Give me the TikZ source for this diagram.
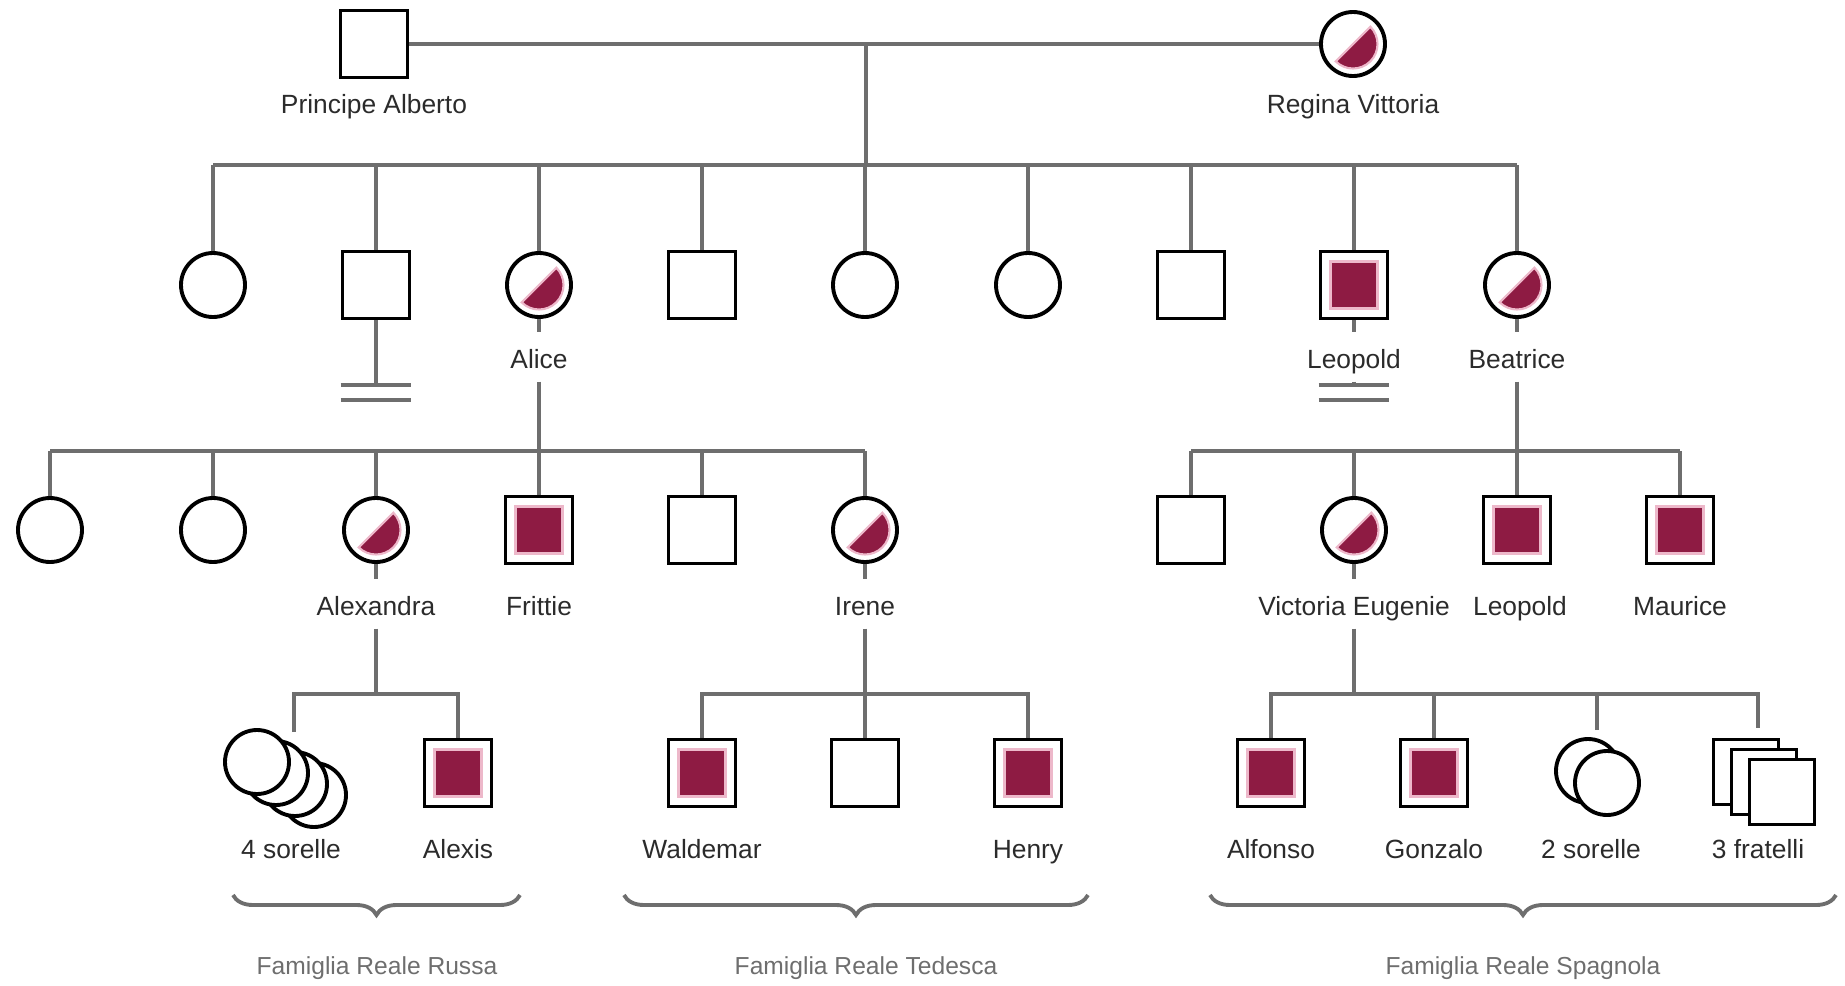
\documentclass[tikz,border=0pt]{standalone}
\usepackage{fontspec}
\setmainfont{Liberation Sans}
\usetikzlibrary{decorations.pathreplacing}
\definecolor{Crim}{HTML}{8E1B43}
\definecolor{Blush}{HTML}{EDB8CA}
\definecolor{Wire}{HTML}{6E6E6E}
\definecolor{Ink}{HTML}{2B2B2B}

\begin{document}
\begin{tikzpicture}[x=0.1mm,y=-0.1mm,font=\fontsize{7.5}{9}\selectfont,
  male/.style={draw=black,line width=1.1pt,fill=white,minimum size=6.7mm,inner sep=0pt},
  fem/.style={circle,draw=black,line width=1.1pt,fill=white,minimum size=6.4mm,inner sep=0pt},
  hit/.style={male,path picture={\fill[Crim,draw=Blush,line width=0.7pt] ([shift={(1mm,1mm)}]path picture bounding box.south west) rectangle ([shift={(-1mm,-1mm)}]path picture bounding box.north east);}},
  carrier/.style={fem,path picture={\fill[Crim,draw=Blush,line width=0.6pt] (path picture bounding box.center) ++(45:2.45mm) arc[start angle=45,end angle=-135,radius=2.45mm] -- cycle;}},
  lbl/.style={text=Ink,inner sep=1.5pt,text height=1.6ex,text depth=0.4ex},
  wire/.style={draw=Wire,line width=1pt},
  clan/.style={draw=Wire,line width=1.1pt,decorate,decoration={brace,mirror,amplitude=2mm}},
  clanname/.style={text=Wire,font=\fontsize{7}{8}\selectfont}]
\useasboundingbox (0,0) rectangle (1845,986);
\coordinate (g1) at (0,165);
\coordinate (g2) at (0,451);
\coordinate (g3) at (0,694);
\coordinate (nb) at (0,385);
\coordinate (nb2) at (0,400);

\node[male] (alberto) at (374,44) {};
\node[lbl] (alberto-l) at (374,102) {Principe Alberto};
\node[carrier] (vittoria) at (1353,44) {};
\node[lbl] (vittoria-l) at (1353,102) {Regina Vittoria};
\draw[wire] (alberto) -- (vittoria);
\coordinate (wed) at (866,44);
\draw[wire] (wed) -- (wed |- g1);

\foreach \s [count=\i] in {fem,male,carrier,male,fem,fem,male,hit,carrier}
  \node[\s] (c\i) at (50+163*\i,285) {};
\draw[wire] (c1.north |- g1) -- (c9.north |- g1);
\foreach \i in {1,...,9}
  \draw[wire] (c\i.north) -- (c\i.north |- g1);

\node[lbl] (alice) at (539,357) {Alice};
\node[lbl] (leo1) at (1354,357) {Leopold};
\node[lbl] (bea) at (1517,357) {Beatrice};
\draw[wire] (c3) -- (alice);
\draw[wire] (alice) -- (alice |- g2);
\draw[wire] (c2) -- (c2 |- nb);
\draw[wire] (c2.west |- nb) -- (c2.east |- nb) (c2.west |- nb2) -- (c2.east |- nb2);
\draw[wire] (c8) -- (leo1);
\draw[wire] (leo1) -- (leo1 |- nb);
\draw[wire] (c8.west |- nb) -- (c8.east |- nb) (c8.west |- nb2) -- (c8.east |- nb2);
\draw[wire] (c9) -- (bea);
\draw[wire] (bea) -- (bea |- g2);

\foreach \s [count=\i] in {fem,fem,carrier,hit,male,carrier}
  \node[\s] (a\i) at (-113+163*\i,530) {};
\draw[wire] (a1.north |- g2) -- (a6.north |- g2);
\foreach \i in {1,...,6}
  \draw[wire] (a\i.north) -- (a\i.north |- g2);
\foreach \s [count=\i] in {male,carrier,hit,hit}
  \node[\s] (b\i) at (1028+163*\i,530) {};
\draw[wire] (b1.north |- g2) -- (b4.north |- g2);
\foreach \i in {1,...,4}
  \draw[wire] (b\i.north) -- (b\i.north |- g2);

\node[lbl] (alexandra) at (376,604) {Alexandra};
\node[lbl] (frittie) at (539,604) {Frittie};
\node[lbl] (irene) at (865,604) {Irene};
\node[lbl] (vic) at (1354,604) {Victoria Eugenie};
\node[lbl] (leo2) at (1520,604) {Leopold};
\node[lbl] (maurice) at (1680,604) {Maurice};
\draw[wire] (a3) -- (alexandra);
\draw[wire] (alexandra) -- (alexandra |- g3);
\draw[wire] (a6) -- (irene);
\draw[wire] (irene) -- (irene |- g3);
\draw[wire] (b2) -- (vic);
\draw[wire] (vic) -- (vic |- g3);

\foreach \i in {4,3,2,1}
  \node[fem] (s\i) at (238+19*\i,751+11*\i) {};
\coordinate (four) at (294,732);
\node[hit] (alexis) at (458,773) {};
\node[lbl] (four-l) at (291,847) {4 sorelle};
\node[lbl] (alexis-l) at (458,847) {Alexis};
\draw[wire] (four) |- (alexis.north |- g3) -- (alexis.north);

\foreach \s [count=\i] in {hit,male,hit}
  \node[\s] (w\i) at (539+163*\i,773) {};
\node[lbl] (waldemar) at (702,847) {Waldemar};
\node[lbl] (henry) at (1028,847) {Henry};
\draw[wire] (w1.north) |- (w3.north |- g3) -- (w3.north);
\draw[wire] (w2.north) -- (w2.north |- g3);

\node[hit] (v1) at (1271,773) {};
\node[hit] (v2) at (1434,773) {};
\node[fem] (t2) at (1588,771) {};
\node[fem] (t1) at (1607,783) {};
\coordinate (two) at (1597,730);
\node[male,minimum size=6.5mm] (f3) at (1746,772) {};
\node[male,minimum size=6.5mm] (f2) at (1764,782) {};
\node[male,minimum size=6.5mm] (f1) at (1782,792) {};
\coordinate (three) at (1758,728);
\node[lbl] (alfonso) at (1271,847) {Alfonso};
\node[lbl] (gonzalo) at (1434,847) {Gonzalo};
\node[lbl] (two-l) at (1591,847) {2 sorelle};
\node[lbl] (three-l) at (1758,847) {3 fratelli};
\draw[wire] (v1.north) |- (three |- g3) -- (three);
\draw[wire] (v2.north) -- (v2.north |- g3);
\draw[wire] (two) -- (two |- g3);

\draw[clan] (233,895) -- (520,895);
\draw[clan] (624,895) -- (1088,895);
\draw[clan] (1210,895) -- (1836,895);
\node[clanname] (russa) at (377,968) {Famiglia Reale Russa};
\node[clanname] (tedesca) at (866,968) {Famiglia Reale Tedesca};
\node[clanname] (spagnola) at (1523,968) {Famiglia Reale Spagnola};
\end{tikzpicture}
\end{document}
